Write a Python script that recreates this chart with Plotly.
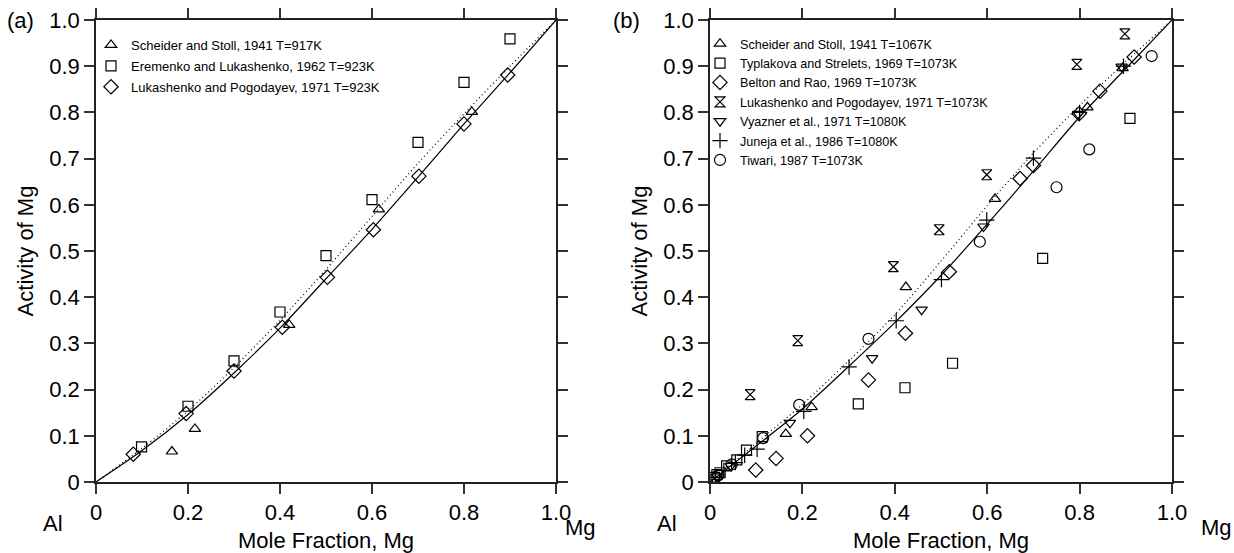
import plotly.graph_objects as go

# ---------------- Panel (a) data ----------------
a_ss_x = [0.165, 0.215, 0.42, 0.615, 0.817]
a_ss_y = [0.066, 0.115, 0.34, 0.590, 0.801]
a_el_x = [0.099, 0.20, 0.30, 0.40, 0.50, 0.60, 0.70, 0.80, 0.90]
a_el_y = [0.076, 0.164, 0.262, 0.368, 0.490, 0.611, 0.735, 0.865, 0.959]
a_lp_x = [0.081, 0.196, 0.30, 0.405, 0.503, 0.603, 0.702, 0.80, 0.895]
a_lp_y = [0.060, 0.148, 0.240, 0.335, 0.443, 0.546, 0.662, 0.775, 0.881]
a_curve_x = [0.0, 0.1, 0.2, 0.3, 0.4, 0.5, 0.6, 0.7, 0.8, 0.9, 1.0]
a_solid_y = [0.0, 0.068, 0.146, 0.236, 0.333, 0.440, 0.547, 0.660, 0.775, 0.886, 1.0]
a_dot_y = [0.0, 0.073, 0.154, 0.248, 0.350, 0.460, 0.575, 0.690, 0.797, 0.900, 1.0]

# ---------------- Panel (b) data ----------------
b_ss_x = [0.164, 0.22, 0.424, 0.617, 0.817, 0.893]
b_ss_y = [0.104, 0.162, 0.422, 0.613, 0.811, 0.896]
b_tp_x = [0.010, 0.015, 0.022, 0.036, 0.058, 0.079, 0.113, 0.321, 0.422, 0.525, 0.720, 0.909]
b_tp_y = [0.010, 0.016, 0.020, 0.035, 0.048, 0.069, 0.098, 0.169, 0.204, 0.257, 0.484, 0.787]
b_br_x = [0.012, 0.099, 0.143, 0.211, 0.343, 0.423, 0.518, 0.671, 0.700, 0.799, 0.844, 0.918]
b_br_y = [0.010, 0.026, 0.051, 0.100, 0.221, 0.322, 0.455, 0.657, 0.685, 0.797, 0.846, 0.920]
b_lp_x = [0.087, 0.190, 0.397, 0.496, 0.599, 0.794, 0.898]
b_lp_y = [0.189, 0.306, 0.466, 0.546, 0.665, 0.904, 0.970]
b_vy_x = [0.015, 0.045, 0.173, 0.351, 0.458, 0.592, 0.797, 0.891]
b_vy_y = [0.012, 0.035, 0.128, 0.268, 0.373, 0.553, 0.797, 0.899]
b_jn_x = [0.012, 0.030, 0.055, 0.075, 0.102, 0.203, 0.301, 0.403, 0.501, 0.599, 0.700, 0.800, 0.895]
b_jn_y = [0.010, 0.025, 0.042, 0.058, 0.071, 0.153, 0.249, 0.349, 0.438, 0.567, 0.701, 0.800, 0.900]
b_tw_x = [0.018, 0.047, 0.115, 0.193, 0.343, 0.584, 0.750, 0.821, 0.956]
b_tw_y = [0.015, 0.038, 0.095, 0.167, 0.310, 0.520, 0.638, 0.720, 0.922]
b_curve_x = [0.0, 0.1, 0.2, 0.3, 0.4, 0.5, 0.6, 0.7, 0.8, 0.9, 1.0]
b_solid_y = [0.0, 0.078, 0.158, 0.250, 0.345, 0.447, 0.558, 0.673, 0.790, 0.895, 1.0]
b_dot_y = [0.0, 0.084, 0.168, 0.262, 0.362, 0.478, 0.598, 0.712, 0.815, 0.910, 1.0]

x_ticks = [0, 0.2, 0.4, 0.6, 0.8, 1.0]
x_labels = ["0", "0.2", "0.4", "0.6", "0.8", "1.0"]
y_ticks = [0, 0.1, 0.2, 0.3, 0.4, 0.5, 0.6, 0.7, 0.8, 0.9, 1.0]
y_labels = ["0", "0.1", "0.2", "0.3", "0.4", "0.5", "0.6", "0.7", "0.8", "0.9", "1.0"]

FONT = "Liberation Sans, Arial, Helvetica, sans-serif"
W, H = 1234, 553

fig = go.Figure()

def pts(x, y, name, sym, xa, ya, leg, size=10):
    fig.add_trace(go.Scatter(
        x=x, y=y, mode="markers", name=name, xaxis=xa, yaxis=ya, legend=leg,
        legendgroup=name,
        marker=dict(symbol=sym, size=size, color="black", line=dict(color="black", width=1.2)),
    ))

def curve(x, y, dash, xa, ya):
    fig.add_trace(go.Scatter(
        x=x, y=y, mode="lines", xaxis=xa, yaxis=ya, showlegend=False,
        line=dict(color="black", width=1.2, dash=dash, shape="spline", smoothing=0.8),
        hoverinfo="skip",
    ))

# panel (a)
curve(a_curve_x, a_dot_y, "1px,3px", "x", "y")
curve(a_curve_x, a_solid_y, "solid", "x", "y")
pts(a_ss_x, a_ss_y, "Scheider and Stoll, 1941 T=917K", "triangle-up-open", "x", "y", "legend")
pts(a_el_x, a_el_y, "Eremenko and Lukashenko, 1962 T=923K", "square-open", "x", "y", "legend")
pts(a_lp_x, a_lp_y, "Lukashenko and Pogodayev, 1971 T=923K", "diamond-open", "x", "y", "legend", 11)

# panel (b)
curve(b_curve_x, b_dot_y, "1px,3px", "x2", "y2")
curve(b_curve_x, b_solid_y, "solid", "x2", "y2")
pts(b_ss_x, b_ss_y, "Scheider and Stoll, 1941 T=1067K", "triangle-up-open", "x2", "y2", "legend2")
pts(b_tp_x, b_tp_y, "Typlakova and Strelets, 1969 T=1073K", "square-open", "x2", "y2", "legend2")
pts(b_br_x, b_br_y, "Belton and Rao, 1969 T=1073K", "diamond-open", "x2", "y2", "legend2", 11)
pts(b_lp_x, b_lp_y, "Lukashenko and Pogodayev, 1971 T=1073K", "hourglass-open", "x2", "y2", "legend2")
pts(b_vy_x, b_vy_y, "Vyazner et al., 1971 T=1080K", "triangle-down-open", "x2", "y2", "legend2")
pts(b_jn_x, b_jn_y, "Juneja et al., 1986 T=1080K", "cross-thin-open", "x2", "y2", "legend2", 11)
pts(b_tw_x, b_tw_y, "Tiwari, 1987 T=1073K", "circle-open", "x2", "y2", "legend2", 11)

ydom = [(H - 482) / H, (H - 20) / H]
axis_common = dict(
    range=[0, 1], showline=True, linecolor="#222", linewidth=1.5, mirror="ticks",
    ticks="outside", ticklen=10, tickwidth=1.5, tickcolor="#333",
    showgrid=False, zeroline=False, automargin=False,
    tickfont=dict(family=FONT, size=22, color="black"),
)

fig.update_layout(
    template="none",
    width=W, height=H, margin=dict(l=0, r=0, t=0, b=0, pad=0), autosize=False,
    paper_bgcolor="white", plot_bgcolor="white",
    font=dict(family=FONT, color="black"),
    xaxis=dict(domain=[96 / W, 556 / W], tickvals=x_ticks, ticktext=x_labels, anchor="y",
               title=dict(text="Mole Fraction, Mg", font=dict(size=22), standoff=8), **axis_common),
    yaxis=dict(domain=ydom, tickvals=y_ticks, ticktext=y_labels, anchor="x",
               title=dict(text="Activity of Mg", font=dict(size=22), standoff=10), **axis_common),
    xaxis2=dict(domain=[710 / W, 1172 / W], tickvals=x_ticks, ticktext=x_labels, anchor="y2",
                title=dict(text="Mole Fraction, Mg", font=dict(size=22), standoff=8), **axis_common),
    yaxis2=dict(domain=ydom, tickvals=y_ticks, ticktext=y_labels, anchor="x2",
                title=dict(text="Activity of Mg", font=dict(size=22), standoff=10), **axis_common),
    legend=dict(x=91 / W, y=(H - 30) / H, xanchor="left", yanchor="top",
                bgcolor="rgba(0,0,0,0)", borderwidth=0, tracegroupgap=1,
                font=dict(family=FONT, size=13, color="black")),
    legend2=dict(x=700 / W, y=(H - 29) / H, xanchor="left", yanchor="top",
                 bgcolor="rgba(0,0,0,0)", borderwidth=0, tracegroupgap=0,
                 font=dict(family=FONT, size=12.6, color="black")),
    showlegend=True,
)

ann_font = dict(family=FONT, size=22, color="black")
for txt, px, py in [("(a)", 20, 20), ("(b)", 626, 20), ("Al", 53, 523), ("Mg", 580, 527),
                    ("Al", 667, 523), ("Mg", 1216, 527)]:
    fig.add_annotation(text=txt, x=px / W, y=(H - py) / H, xref="paper", yref="paper",
                       xanchor="center", yanchor="middle", showarrow=False, font=ann_font)

fig.write_html("out.html")
